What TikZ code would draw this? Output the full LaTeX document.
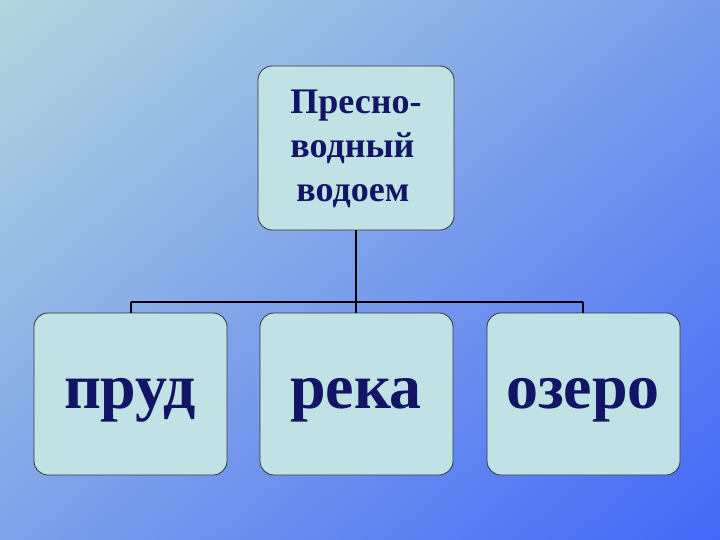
\documentclass[tikz,border=0pt]{standalone}
\usepackage{fontspec}
\setmainfont{Liberation Serif}
\definecolor{bgA}{HTML}{BCE0DC}
\definecolor{bgB}{HTML}{3A5EFA}
\definecolor{boxfill}{HTML}{C0E2E4}
\definecolor{txt}{HTML}{141466}
\begin{document}
\begin{tikzpicture}[x=1pt,y=-1pt,
  box/.style={draw=black!80,line width=0.8pt,fill=boxfill,rounded corners=14pt,inner sep=0pt},
  lbl/.style={text=txt,font=\bfseries,align=center},
  conn/.style={line width=2pt,draw=black}]
\useasboundingbox (0,0) rectangle (720,540);
\shade[shading=axis,top color=bgA,bottom color=bgB,shading angle=40] (-200,-200) rectangle (920,740);
\draw[box] (258,66) rectangle (454,230);
\node[lbl,align=left,font=\bfseries\fontsize{36}{44}\selectfont] (top) at (356,149) {Пресно-\\водный\\\,водоем};
\draw[box] (34,313) rectangle (227,475);
\draw[box] (260,313) rectangle (453,475);
\draw[box] (487,313) rectangle (680,475);
\node[lbl,font=\bfseries\fontsize{64}{70}\selectfont] (a) at (130,400) {пруд};
\node[lbl,font=\bfseries\fontsize{64}{70}\selectfont] (b) at (356,400) {река};
\node[lbl,font=\bfseries\fontsize{64}{70}\selectfont] (c) at (583,400) {озеро};
\coordinate (t) at (356,230);
\coordinate (j) at (356,302);
\coordinate (l) at (131,302);
\coordinate (r) at (583,302);
\draw[conn] (t) -- (j);
\draw[conn] (l) -- (r);
\draw[conn] (l) -- (131,313);
\draw[conn] (j) -- (356,313);
\draw[conn] (r) -- (583,313);
\end{tikzpicture}
\end{document}
